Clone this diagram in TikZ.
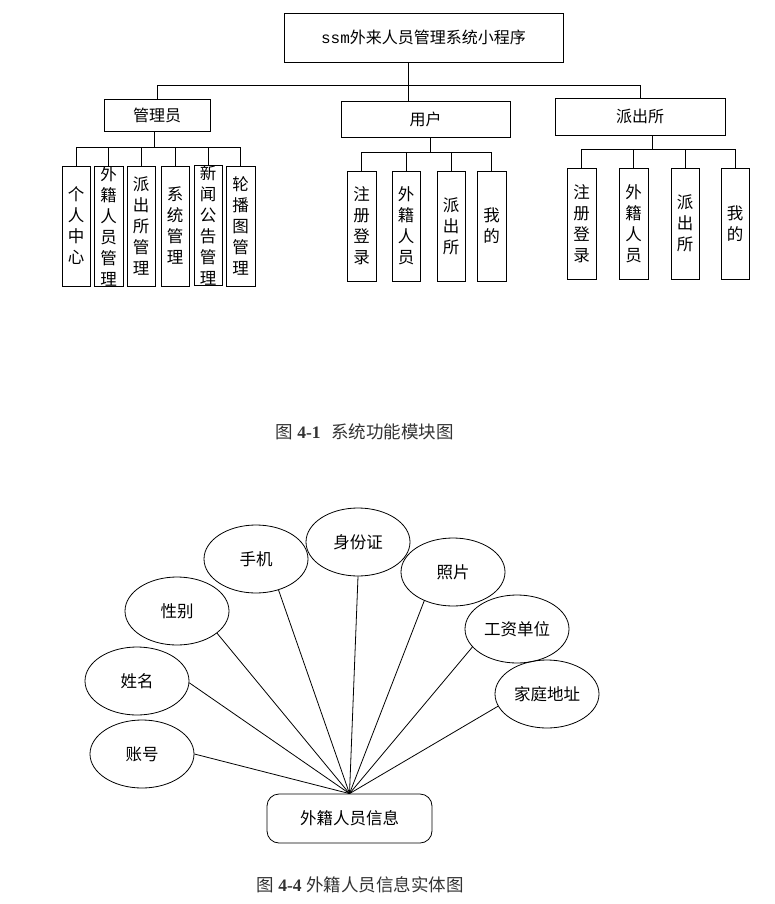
\documentclass[tikz,border=0pt]{standalone}
\usepackage{fontspec}
\setmainfont{Liberation Serif}
\newfontfamily\cjk{Noto Sans CJK SC}
\newfontfamily\monof{Liberation Mono}
\usetikzlibrary{shapes.geometric}
\begin{document}
\begin{tikzpicture}[x=1pt,y=-1pt,
  box/.style={draw, line width=0.8pt, inner sep=0pt, font=\cjk\fontsize{16}{18}\selectfont},
  vbox/.style={draw, line width=0.8pt, inner sep=0pt, align=center, font=\cjk\fontsize{16.5}{21}\selectfont},
  attr/.style={ellipse, draw, line width=0.8pt, minimum width=104pt, minimum height=68pt, inner sep=0pt, font=\cjk\fontsize{16.5}{19}\selectfont},
  link/.style={line width=0.8pt},
  captext/.style={text=black!80, font=\fontsize{17.5}{20}\selectfont}]
\fill[white] (0,0) rectangle (774,904);
\useasboundingbox (0,0) rectangle (774,904);

% ---------- top chart ----------
\node[box, minimum width=279pt, minimum height=49pt] (title) at (423.5,37.5) {{\monof ssm}外来人员管理系统小程序};
\node[box, minimum width=106pt, minimum height=32pt] (admin) at (157,115) {管理员};
\node[box, minimum width=169pt, minimum height=36pt] (user) at (425.5,119) {用户};
\node[box, minimum width=170pt, minimum height=37pt] (police) at (640,116.5) {派出所};

\coordinate (tj) at (408,85);
\draw[link] (title.south -| tj) -- (tj);
\draw[link] (admin.north) -- (admin.north |- tj) -- (police.north |- tj) -- (police.north);
\draw[link] (user.north -| tj) -- (tj);

% admin children
\node[vbox, minimum width=28pt, minimum height=120pt] (a1) at (76,226) {个\\人\\中\\心};
\node[vbox, minimum width=29pt, minimum height=120pt] (a2) at (108.5,226) {外\\籍\\人\\员\\管\\理};
\node[vbox, minimum width=28pt, minimum height=120pt] (a3) at (141,226) {派\\出\\所\\管\\理};
\node[vbox, minimum width=28pt, minimum height=120pt] (a4) at (175,226) {系\\统\\管\\理};
\node[vbox, minimum width=28pt, minimum height=120pt] (a5) at (208,225) {新\\闻\\公\\告\\管\\理};
\node[vbox, minimum width=29pt, minimum height=120pt] (a6) at (240.5,226) {轮\\播\\图\\管\\理};
\coordinate (aj) at (154,147);
\draw[link] (admin.south -| aj) -- (aj);
\draw[link] (a1.north |- aj) -- (a6.north |- aj);
\foreach \n in {a1,a2,a3,a4,a5,a6} \draw[link] (\n.north) -- (\n.north |- aj);

% user children
\node[vbox, minimum width=29pt, minimum height=110pt] (u1) at (361.5,226) {注\\册\\登\\录};
\node[vbox, minimum width=28pt, minimum height=110pt] (u2) at (406,226) {外\\籍\\人\\员};
\node[vbox, minimum width=28pt, minimum height=110pt] (u3) at (451,226) {派\\出\\所};
\node[vbox, minimum width=29pt, minimum height=110pt] (u4) at (491.5,226) {我\\的};
\coordinate (uj) at (430,152);
\draw[link] (user.south -| uj) -- (uj);
\draw[link] (u1.north |- uj) -- (u4.north |- uj);
\foreach \n in {u1,u2,u3,u4} \draw[link] (\n.north) -- (\n.north |- uj);

% police children
\node[vbox, minimum width=29pt, minimum height=111pt] (p1) at (581.5,223.5) {注\\册\\登\\录};
\node[vbox, minimum width=29pt, minimum height=111pt] (p2) at (633.5,223.5) {外\\籍\\人\\员};
\node[vbox, minimum width=28pt, minimum height=111pt] (p3) at (685,223.5) {派\\出\\所};
\node[vbox, minimum width=28pt, minimum height=111pt] (p4) at (735,223.5) {我\\的};
\coordinate (pj) at (652,149);
\draw[link] (police.south -| pj) -- (pj);
\draw[link] (p1.north |- pj) -- (p4.north |- pj);
\foreach \n in {p1,p2,p3,p4} \draw[link] (\n.north) -- (\n.north |- pj);

\node[captext] (cap1) at (364.5,432) {{\cjk 图} \textbf{4-1}\hspace{0.6em}{\cjk 系统功能模块图}};

% ---------- entity diagram ----------
\node[attr] (sfz) at (358,542) {身份证};
\node[attr] (sj) at (256,559) {手机};
\node[attr] (zp) at (453,572) {照片};
\node[attr] (xb) at (177,611) {性别};
\node[attr] (gz) at (517,629) {工资单位};
\node[attr] (xm) at (137,681) {姓名};
\node[attr] (jt) at (547,694) {家庭地址};
\node[attr] (zh) at (142,754) {账号};
\node[draw, line width=0.8pt, rounded corners=12pt, minimum width=165pt, minimum height=49pt, inner sep=0pt,
      font=\cjk\fontsize{16.5}{19}\selectfont] (ent) at (349.5,818.5) {外籍人员信息};
\foreach \n/\a in {sfz/south,sj/-54,zp/-135,xb/-29,gz/-158,xm/-2,jt/-166,zh/east}
  \draw[link] (\n.\a) -- (ent.north);

\node[captext] (cap2) at (360,885) {{\cjk 图} \textbf{4-4} {\cjk 外籍人员信息实体图}};
\end{tikzpicture}
\end{document}
